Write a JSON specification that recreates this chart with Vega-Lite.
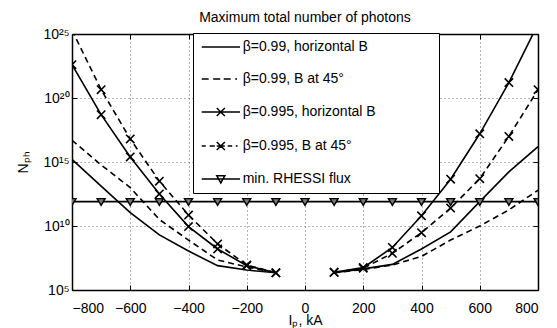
{
  "$schema": "https://vega.github.io/schema/vega-lite/v6.json",
  "width": 466,
  "height": 256,
  "autosize": {"type": "none"},
  "padding": {"top": 34, "left": 72, "right": 19, "bottom": 38},
  "background": "white",
  "title": {"text": "Maximum total number of photons", "fontSize": 14, "fontWeight": "normal", "font": "Liberation Sans", "color": "black", "anchor": "middle", "offset": 2},
  "config": {
    "view": {"stroke": null},
    "axis": {"domainColor": "black", "domainWidth": 1.5, "tickColor": "black", "tickWidth": 1, "labelFont": "Liberation Sans", "labelFontSize": 14, "labelColor": "black", "titleFont": "Liberation Sans", "titleFontSize": 14, "titleFontWeight": "normal", "titleColor": "black", "gridColor": "#666", "gridDash": [1, 3], "gridWidth": 1, "gridOpacity": 1}
  },
  "data": {"values": [
    {"s": "β=0.99, horizontal B", "b": "L", "I": -800, "N": 1.6e15},
    {"s": "β=0.99, horizontal B", "b": "L", "I": -700, "N": 1.3e13},
    {"s": "β=0.99, horizontal B", "b": "L", "I": -600, "N": 1.1e11},
    {"s": "β=0.99, horizontal B", "b": "L", "I": -500, "N": 2e9},
    {"s": "β=0.99, horizontal B", "b": "L", "I": -400, "N": 1.1e8},
    {"s": "β=0.99, horizontal B", "b": "L", "I": -300, "N": 8e6},
    {"s": "β=0.99, horizontal B", "b": "L", "I": -200, "N": 3.6e6},
    {"s": "β=0.99, horizontal B", "b": "L", "I": -100, "N": 2.2e6},
    {"s": "β=0.99, horizontal B", "b": "R", "I": 100, "N": 2.2e6},
    {"s": "β=0.99, horizontal B", "b": "R", "I": 200, "N": 4.5e6},
    {"s": "β=0.99, horizontal B", "b": "R", "I": 300, "N": 1e7},
    {"s": "β=0.99, horizontal B", "b": "R", "I": 400, "N": 1.6e8},
    {"s": "β=0.99, horizontal B", "b": "R", "I": 500, "N": 3.5e9},
    {"s": "β=0.99, horizontal B", "b": "R", "I": 600, "N": 8e11},
    {"s": "β=0.99, horizontal B", "b": "R", "I": 700, "N": 1.7e14},
    {"s": "β=0.99, horizontal B", "b": "R", "I": 800, "N": 1.6e16},
    {"s": "β=0.99, B at 45°", "b": "L", "I": -800, "N": 5e16},
    {"s": "β=0.99, B at 45°", "b": "L", "I": -700, "N": 5.9e14},
    {"s": "β=0.99, B at 45°", "b": "L", "I": -600, "N": 1e13},
    {"s": "β=0.99, B at 45°", "b": "L", "I": -500, "N": 3.2e10},
    {"s": "β=0.99, B at 45°", "b": "L", "I": -400, "N": 8e8},
    {"s": "β=0.99, B at 45°", "b": "L", "I": -300, "N": 2.2e7},
    {"s": "β=0.99, B at 45°", "b": "L", "I": -200, "N": 6.3e6},
    {"s": "β=0.99, B at 45°", "b": "L", "I": -100, "N": 2.2e6},
    {"s": "β=0.99, B at 45°", "b": "R", "I": 100, "N": 2.2e6},
    {"s": "β=0.99, B at 45°", "b": "R", "I": 200, "N": 4e6},
    {"s": "β=0.99, B at 45°", "b": "R", "I": 300, "N": 9e6},
    {"s": "β=0.99, B at 45°", "b": "R", "I": 400, "N": 4.2e7},
    {"s": "β=0.99, B at 45°", "b": "R", "I": 500, "N": 8e8},
    {"s": "β=0.99, B at 45°", "b": "R", "I": 600, "N": 1e10},
    {"s": "β=0.99, B at 45°", "b": "R", "I": 700, "N": 1.8e11},
    {"s": "β=0.99, B at 45°", "b": "R", "I": 800, "N": 6.3e12},
    {"s": "β=0.995, horizontal B", "b": "L", "I": -800, "N": 4e22},
    {"s": "β=0.995, horizontal B", "b": "L", "I": -700, "N": 5e18},
    {"s": "β=0.995, horizontal B", "b": "L", "I": -600, "N": 2.5e15},
    {"s": "β=0.995, horizontal B", "b": "L", "I": -500, "N": 3.2e12},
    {"s": "β=0.995, horizontal B", "b": "L", "I": -400, "N": 9e9},
    {"s": "β=0.995, horizontal B", "b": "L", "I": -300, "N": 1.6e8},
    {"s": "β=0.995, horizontal B", "b": "L", "I": -200, "N": 8e6},
    {"s": "β=0.995, horizontal B", "b": "L", "I": -100, "N": 2.2e6},
    {"s": "β=0.995, horizontal B", "b": "R", "I": 100, "N": 2.4e6},
    {"s": "β=0.995, horizontal B", "b": "R", "I": 200, "N": 5.6e6},
    {"s": "β=0.995, horizontal B", "b": "R", "I": 300, "N": 2.1e8},
    {"s": "β=0.995, horizontal B", "b": "R", "I": 400, "N": 6.3e10},
    {"s": "β=0.995, horizontal B", "b": "R", "I": 500, "N": 4.5e13},
    {"s": "β=0.995, horizontal B", "b": "R", "I": 600, "N": 1.6e17},
    {"s": "β=0.995, horizontal B", "b": "R", "I": 700, "N": 1.6e21},
    {"s": "β=0.995, horizontal B", "b": "R", "I": 800, "N": 6e25},
    {"s": "β=0.995, B at 45°", "b": "L", "I": -800, "N": 2e25},
    {"s": "β=0.995, B at 45°", "b": "L", "I": -700, "N": 4.5e20},
    {"s": "β=0.995, B at 45°", "b": "L", "I": -600, "N": 6.3e16},
    {"s": "β=0.995, B at 45°", "b": "L", "I": -500, "N": 3.2e13},
    {"s": "β=0.995, B at 45°", "b": "L", "I": -400, "N": 7.2e10},
    {"s": "β=0.995, B at 45°", "b": "L", "I": -300, "N": 4e8},
    {"s": "β=0.995, B at 45°", "b": "L", "I": -200, "N": 9e6},
    {"s": "β=0.995, B at 45°", "b": "L", "I": -100, "N": 2.2e6},
    {"s": "β=0.995, B at 45°", "b": "R", "I": 100, "N": 2.4e6},
    {"s": "β=0.995, B at 45°", "b": "R", "I": 200, "N": 5e6},
    {"s": "β=0.995, B at 45°", "b": "R", "I": 300, "N": 7.4e7},
    {"s": "β=0.995, B at 45°", "b": "R", "I": 400, "N": 3e9},
    {"s": "β=0.995, B at 45°", "b": "R", "I": 500, "N": 2.5e11},
    {"s": "β=0.995, B at 45°", "b": "R", "I": 600, "N": 5e13},
    {"s": "β=0.995, B at 45°", "b": "R", "I": 700, "N": 1e17},
    {"s": "β=0.995, B at 45°", "b": "R", "I": 800, "N": 4.5e20},
    {"s": "min. RHESSI flux", "b": "M", "I": -800, "N": 8e11},
    {"s": "min. RHESSI flux", "b": "M", "I": -700, "N": 8e11},
    {"s": "min. RHESSI flux", "b": "M", "I": -600, "N": 8e11},
    {"s": "min. RHESSI flux", "b": "M", "I": -500, "N": 8e11},
    {"s": "min. RHESSI flux", "b": "M", "I": -400, "N": 8e11},
    {"s": "min. RHESSI flux", "b": "M", "I": -300, "N": 8e11},
    {"s": "min. RHESSI flux", "b": "M", "I": -200, "N": 8e11},
    {"s": "min. RHESSI flux", "b": "M", "I": -100, "N": 8e11},
    {"s": "min. RHESSI flux", "b": "M", "I": 0, "N": 8e11},
    {"s": "min. RHESSI flux", "b": "M", "I": 100, "N": 8e11},
    {"s": "min. RHESSI flux", "b": "M", "I": 200, "N": 8e11},
    {"s": "min. RHESSI flux", "b": "M", "I": 300, "N": 8e11},
    {"s": "min. RHESSI flux", "b": "M", "I": 400, "N": 8e11},
    {"s": "min. RHESSI flux", "b": "M", "I": 500, "N": 8e11},
    {"s": "min. RHESSI flux", "b": "M", "I": 600, "N": 8e11},
    {"s": "min. RHESSI flux", "b": "M", "I": 700, "N": 8e11},
    {"s": "min. RHESSI flux", "b": "M", "I": 800, "N": 8e11}
  ]},
  "resolve": {"axis": {"x": "independent", "y": "independent"}},
  "layer": [
    {
      "transform": [{"filter": "datum.s == 'β=0.99, horizontal B' || datum.s == 'β=0.995, horizontal B' || datum.s == 'min. RHESSI flux'"}],
      "mark": {"type": "line", "clip": true, "strokeWidth": 1.6, "color": "black"},
      "encoding": {
        "x": {"field": "I", "type": "quantitative", "scale": {"domain": [-800, 800], "nice": false, "zero": false},
          "axis": {"orient": "bottom", "values": [-800, -600, -400, -200, 0, 200, 400, 600, 800], "tickSize": -5, "labelPadding": 16, "grid": true, "gridDash": [1, 3], "title": "Iₚ, kA", "titlePadding": -2}},
        "y": {"field": "N", "type": "quantitative", "scale": {"type": "log", "domain": [1e5, 1e25], "nice": false},
          "axis": {"orient": "left", "values": [1e5, 1e10, 1e15, 1e20, 1e25], "tickSize": -5, "labelPadding": 8, "grid": true, "gridDash": [1, 3], "title": "Nₚₕ", "titlePadding": 12,
            "labelExpr": "datum.value < 1e6 ? '10⁵' : datum.value < 1e11 ? '10¹⁰' : datum.value < 1e16 ? '10¹⁵' : datum.value < 1e21 ? '10²⁰' : '10²⁵'"}},
        "detail": [{"field": "s", "type": "nominal"}, {"field": "b", "type": "nominal"}]
      }
    },
    {
      "transform": [{"filter": "datum.s == 'β=0.99, B at 45°' || datum.s == 'β=0.995, B at 45°'"}],
      "mark": {"type": "line", "clip": true, "strokeWidth": 1.6, "color": "black", "strokeDash": [6, 4]},
      "encoding": {
        "x": {"field": "I", "type": "quantitative", "axis": null},
        "y": {"field": "N", "type": "quantitative", "axis": null},
        "detail": [{"field": "s", "type": "nominal"}, {"field": "b", "type": "nominal"}]
      }
    },
    {
      "transform": [{"filter": "datum.s == 'β=0.995, horizontal B' || datum.s == 'β=0.995, B at 45°'"}],
      "mark": {"type": "point", "clip": true, "shape": "M-1,-1L1,1M-1,1L1,-1", "size": 70, "filled": false, "stroke": "black", "strokeWidth": 1.6, "opacity": 1},
      "encoding": {
        "x": {"field": "I", "type": "quantitative", "axis": null},
        "y": {"field": "N", "type": "quantitative", "axis": null}
      }
    },
    {
      "transform": [{"filter": "datum.s == 'min. RHESSI flux'"}],
      "mark": {"type": "point", "clip": true, "shape": "M-1,-0.75L1,-0.75L0,0.95Z", "size": 64, "filled": true, "fill": "#777", "stroke": "black", "strokeWidth": 1.4, "opacity": 1},
      "encoding": {
        "x": {"field": "I", "type": "quantitative",
          "axis": {"orient": "top", "values": [-800, -600, -400, -200, 0, 200, 400, 600, 800], "tickSize": -5, "labels": false, "grid": false, "title": null}},
        "y": {"field": "N", "type": "quantitative",
          "axis": {"orient": "right", "values": [1e5, 1e10, 1e15, 1e20, 1e25], "tickSize": -5, "labels": false, "grid": false, "title": null}}
      }
    },
    {
      "transform": [{"filter": "false"}],
      "mark": {"type": "point", "size": 144, "filled": false, "color": "black", "strokeWidth": 1.5, "opacity": 1},
      "encoding": {
        "shape": {"field": "s", "type": "nominal",
          "scale": {"domain": ["β=0.99, horizontal B", "β=0.99, B at 45°", "β=0.995, horizontal B", "β=0.995, B at 45°", "min. RHESSI flux"],
            "range": [
              "M-0.88,0H5.5",
              "M-0.88,0H0.28M1.03,0H2.2M2.78,0H3.95M4.7,0H5.0",
              "M-0.88,0H5.5M1.63,-0.67L2.97,0.67M1.63,0.67L2.97,-0.67",
              "M-0.88,0H-0.2M0.45,0H1.3M1.63,0H2.97M3.45,0H4.2M4.8,0H5.1M1.63,-0.67L2.97,0.67M1.63,0.67L2.97,-0.67",
              "M-0.88,0H5.5M1.63,-0.55L2.97,-0.55L2.3,0.65Z"
            ]},
          "legend": {"orient": "none", "legendX": 121, "legendY": -1, "title": " ", "titleOrient": "right", "titlePadding": 56, "padding": 7,
            "labelOffset": 28.7, "rowPadding": 18, "symbolSize": 144, "symbolStrokeWidth": 1.5, "symbolStrokeColor": "black", "symbolOpacity": 1,
            "labelFont": "Liberation Sans", "labelFontSize": 14, "labelColor": "black", "labelLimit": 300,
            "fillColor": "white", "strokeColor": "black"}}
      }
    }
  ]
}
